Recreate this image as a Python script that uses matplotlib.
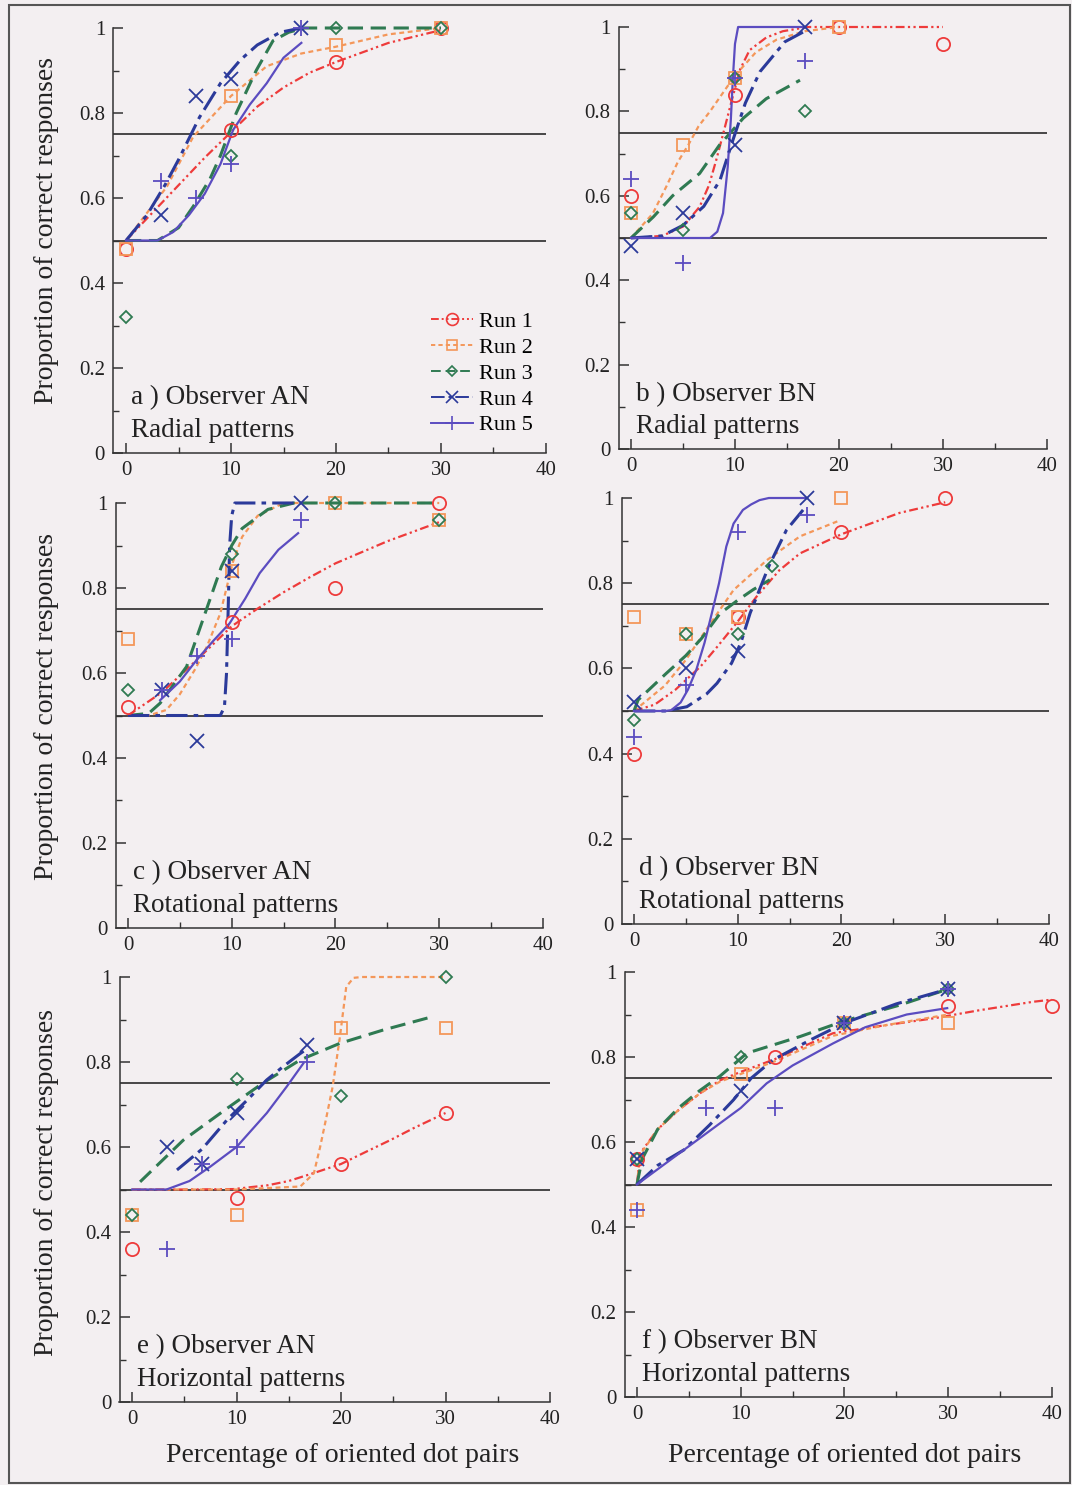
import matplotlib
matplotlib.use("Agg")
import matplotlib.pyplot as plt
from matplotlib.lines import Line2D
from matplotlib.patches import Rectangle

plt.rcParams['font.family'] = ['Liberation Serif', 'DejaVu Serif']

# ---------------- data ----------------
run_labels = ["Run 1", "Run 2", "Run 3", "Run 4", "Run 5"]
x_ticks = [0, 10, 20, 30, 40]
y_ticks = [0, 0.2, 0.4, 0.6, 0.8, 1.0]
y_tick_labels = ["0", "0.2", "0.4", "0.6", "0.8", "1"]
ref_levels = [0.5, 0.75]

panel_titles = [("a ) Observer AN", "Radial patterns"),
                ("b ) Observer BN", "Radial patterns"),
                ("c ) Observer AN", "Rotational patterns"),
                ("d ) Observer BN", "Rotational patterns"),
                ("e ) Observer AN", "Horizontal patterns"),
                ("f ) Observer BN", "Horizontal patterns")]

# panel a
a_pts_x = [[0, 10, 20, 30], [0, 10, 20, 30], [0, 10, 20, 30],
           [3.3, 6.7, 10, 16.7], [3.3, 6.7, 10, 16.7]]
a_pts_y = [[0.48, 0.76, 0.92, 1.0], [0.48, 0.84, 0.96, 1.0], [0.32, 0.70, 1.0, 1.0],
           [0.56, 0.84, 0.88, 1.0], [0.64, 0.60, 0.68, 1.0]]
a_fit_x = [[0, 2.5, 5, 7.5, 10, 12.5, 15, 17.5, 20, 25, 30],
           [0, 2, 3.9, 6.4, 10, 13.4, 16.7, 20, 25, 30],
           [0, 3, 5, 6.4, 8, 9, 10.5, 12.4, 14, 15.5, 17, 20, 30],
           [0, 2, 3.7, 5, 7, 9, 10.9, 12.5, 14.7, 16.7],
           [0, 3, 4.5, 6, 7.5, 9, 10.2, 11.8, 13.4, 15, 16.7]]
a_fit_y = [[0.5, 0.565, 0.63, 0.695, 0.755, 0.815, 0.86, 0.895, 0.92, 0.965, 0.995],
           [0.5, 0.565, 0.627, 0.744, 0.84, 0.91, 0.94, 0.956, 0.985, 1.0],
           [0.5, 0.5, 0.53, 0.58, 0.645, 0.70, 0.80, 0.90, 0.97, 0.99, 1.0, 1.0, 1.0],
           [0.5, 0.56, 0.63, 0.69, 0.79, 0.87, 0.925, 0.96, 0.99, 1.0],
           [0.5, 0.5, 0.52, 0.56, 0.61, 0.68, 0.76, 0.82, 0.87, 0.93, 0.965]]

# panel b
b_pts_x = [[0, 10, 20, 30], [0, 5, 10, 20], [0, 5, 10, 16.7],
           [0, 5, 10, 16.7], [0, 5, 10, 16.7]]
b_pts_y = [[0.60, 0.84, 1.0, 0.96], [0.56, 0.72, 0.88, 1.0], [0.56, 0.52, 0.88, 0.80],
           [0.48, 0.56, 0.72, 1.0], [0.64, 0.44, 0.88, 0.92]]
b_fit_x = [[0, 3, 5, 6.6, 7.5, 8.2, 9, 9.7, 10.5, 11.4, 13, 14.6, 17, 20, 30],
           [0, 2.1, 3.4, 4.5, 5.5, 6.5, 7.6, 10, 12, 14, 16.7, 20],
           [0, 2.15, 4, 6.6, 8.5, 10.8, 13, 16.25],
           [0, 3, 5, 7, 8.56, 9.8, 11, 12.4, 14.8, 16.7],
           [0, 7.6, 8.3, 8.85, 9.3, 9.6, 9.8, 10.0, 10.3, 16.7]]
b_fit_y = [[0.5, 0.505, 0.527, 0.574, 0.625, 0.685, 0.76, 0.827, 0.90, 0.945, 0.975, 0.99, 1.0, 1.0, 1.0],
           [0.5, 0.558, 0.622, 0.68, 0.72, 0.765, 0.80, 0.885, 0.94, 0.97, 0.99, 1.0],
           [0.5, 0.55, 0.60, 0.653, 0.72, 0.784, 0.83, 0.874],
           [0.5, 0.505, 0.53, 0.575, 0.637, 0.732, 0.82, 0.894, 0.965, 0.99],
           [0.5, 0.5, 0.515, 0.559, 0.668, 0.78, 0.88, 0.96, 1.0, 1.0]]

# panel c
c_pts_x = [[0, 10, 20, 30], [0, 10, 20, 30], [0, 10, 20, 30],
           [3.3, 6.7, 10, 16.7], [3.3, 6.7, 10, 16.7]]
c_pts_y = [[0.52, 0.72, 0.80, 1.0], [0.68, 0.84, 1.0, 0.96], [0.56, 0.88, 1.0, 0.96],
           [0.56, 0.44, 0.84, 1.0], [0.56, 0.64, 0.68, 0.96]]
c_fit_x = [[0, 3.3, 6.6, 10, 12.4, 15, 17.5, 20, 25, 30],
           [0, 2, 3.7, 5, 6.5, 7.6, 8.9, 10.1, 11, 12.5, 15, 20, 30],
           [0, 2, 3.1, 5.65, 7.6, 9, 10, 11, 12.1, 13.5, 16, 20, 30],
           [0, 8.9, 9.3, 9.5, 9.66, 9.8, 10.0, 10.3, 16.7],
           [3.1, 5, 6.6, 8.2, 9.8, 11.3, 12.7, 14.5, 16.4]]
c_fit_y = [[0.5, 0.555, 0.63, 0.71, 0.75, 0.79, 0.825, 0.858, 0.91, 0.955],
           [0.5, 0.5, 0.513, 0.55, 0.61, 0.662, 0.74, 0.86, 0.92, 0.97, 1.0, 1.0, 1.0],
           [0.5, 0.505, 0.529, 0.615, 0.752, 0.85, 0.90, 0.94, 0.96, 0.985, 1.0, 1.0, 1.0],
           [0.5, 0.5, 0.52, 0.60, 0.75, 0.90, 0.97, 1.0, 1.0],
           [0.536, 0.58, 0.63, 0.675, 0.717, 0.775, 0.835, 0.89, 0.929]]

# panel d
d_pts_x = [[0, 10, 20, 30], [0, 5, 10, 20], [0, 5, 10, 13.3],
           [0, 5, 10, 16.7], [0, 5, 10, 16.7]]
d_pts_y = [[0.40, 0.72, 0.92, 1.0], [0.72, 0.68, 0.72, 1.0], [0.48, 0.68, 0.68, 0.84],
           [0.52, 0.60, 0.64, 1.0], [0.44, 0.56, 0.92, 0.96]]
d_fit_x = [[0, 2, 4, 6.4, 8, 10, 11.8, 14, 16, 20, 25.6, 30],
           [0, 3, 5, 7.5, 9.6, 12.8, 16, 19.9],
           [0, 0.4, 3.1, 5, 6.5, 8.3, 10, 11.5, 13.1],
           [0, 3, 5.1, 7, 8, 9.4, 10.3, 11.2, 13, 14.7, 16.3],
           [0, 3, 3.6, 4.5, 5.2, 6.0, 6.8, 7.5, 8.2, 8.9, 9.6, 10.5, 11.3, 12.1, 13, 16.7]]
d_fit_y = [[0.5, 0.515, 0.55, 0.604, 0.65, 0.71, 0.768, 0.83, 0.87, 0.915, 0.965, 0.99],
           [0.5, 0.56, 0.62, 0.71, 0.784, 0.854, 0.91, 0.948],
           [0.5, 0.526, 0.588, 0.63, 0.67, 0.729, 0.76, 0.785, 0.808],
           [0.5, 0.5, 0.51, 0.54, 0.565, 0.612, 0.66, 0.73, 0.84, 0.925, 0.972],
           [0.5, 0.5, 0.502, 0.52, 0.55, 0.596, 0.66, 0.729, 0.80, 0.886, 0.94, 0.972, 0.985, 0.995, 1.0, 1.0]]

# panel e
e_pts_x = [[0, 10, 20, 30], [0, 10, 20, 30], [0, 10, 20, 30],
           [3.3, 6.7, 10, 16.7], [3.3, 6.7, 10, 16.7]]
e_pts_y = [[0.36, 0.48, 0.56, 0.68], [0.44, 0.44, 0.88, 0.88], [0.44, 0.76, 0.72, 1.0],
           [0.60, 0.56, 0.68, 0.84], [0.36, 0.56, 0.60, 0.80]]
e_fit_x = [[0, 5, 9.7, 13, 15, 17.3, 20, 22.5, 24.7, 27, 30],
           [0, 10, 16.1, 17.4, 18, 18.6, 19.2, 19.9, 20.5, 21.2, 22, 30],
           [0.77, 4.9, 9.1, 12.5, 16.1, 19.9, 24, 28.8],
           [4.3, 6.7, 9.1, 11, 12.9, 14.5, 16.1, 16.7],
           [0, 3.3, 5.5, 7.5, 10, 12.9, 14.8, 16.4]]
e_fit_y = [[0.5, 0.5, 0.501, 0.51, 0.52, 0.538, 0.56, 0.59, 0.616, 0.645, 0.68],
           [0.5, 0.5, 0.507, 0.538, 0.60, 0.67, 0.742, 0.86, 0.977, 0.998, 1.0, 1.0],
           [0.518, 0.616, 0.691, 0.75, 0.805, 0.844, 0.875, 0.907],
           [0.546, 0.595, 0.664, 0.71, 0.758, 0.79, 0.82, 0.83],
           [0.5, 0.5, 0.52, 0.554, 0.60, 0.68, 0.742, 0.797]]

# panel f
f_pts_x = [[0, 13.3, 30, 40], [0, 10, 20, 30], [0, 10, 20, 30],
           [0, 10, 20, 30], [0, 6.7, 13.3, 20, 30]]
f_pts_y = [[0.56, 0.80, 0.92, 0.92], [0.44, 0.76, 0.88, 0.88], [0.56, 0.80, 0.88, 0.96],
           [0.56, 0.72, 0.88, 0.96], [0.44, 0.68, 0.68, 0.88, 0.96]]
f_fit_x = [[0, 0.3, 2, 4, 6.1, 8, 10, 13.3, 18.9, 24, 28.6, 33, 38.2, 40],
           [0, 0.3, 2, 4, 6.1, 8, 10, 13.3, 18.9, 24, 30],
           [0, 0.5, 2, 4, 6, 8, 10.6, 15.7, 20, 25.3, 30],
           [0, 2, 4.5, 7, 9.3, 11, 13.1, 16.7, 20, 25, 30],
           [0, 5, 10, 12.5, 15, 18.9, 22, 26, 29.9]]
f_fit_y = [[0.5, 0.573, 0.63, 0.675, 0.715, 0.745, 0.765, 0.795, 0.856, 0.875, 0.891, 0.91, 0.93, 0.935],
           [0.5, 0.57, 0.63, 0.675, 0.715, 0.742, 0.76, 0.79, 0.85, 0.875, 0.90],
           [0.5, 0.56, 0.63, 0.68, 0.72, 0.755, 0.809, 0.848, 0.885, 0.922, 0.96],
           [0.5, 0.545, 0.581, 0.64, 0.699, 0.75, 0.793, 0.84, 0.88, 0.925, 0.96],
           [0.5, 0.59, 0.68, 0.738, 0.78, 0.832, 0.87, 0.90, 0.915]]

panels = [(a_pts_x, a_pts_y, a_fit_x, a_fit_y),
          (b_pts_x, b_pts_y, b_fit_x, b_fit_y),
          (c_pts_x, c_pts_y, c_fit_x, c_fit_y),
          (d_pts_x, d_pts_y, d_fit_x, d_fit_y),
          (e_pts_x, e_pts_y, e_fit_x, e_fit_y),
          (f_pts_x, f_pts_y, f_fit_x, f_fit_y)]

# ---------------- style ----------------
W, H = 1072, 1485
BG = '#F3EFF1'
colors = ['#EE3B3B', '#F4975A', '#2F7A52', '#2B3A9A', '#5B4CC0']
linestyles = [(0, (4, 1.5, 1, 1.5, 1, 1.5)), (0, (2.2, 1.6)), (0, (5, 2.5)),
              (0, (7, 2, 1.5, 2)), '-']
linewidths = [1.6, 1.6, 2.2, 2.2, 1.6]
markers = ['o', 's', 'D', 'x', '+']
msizes = [9.5, 8.5, 6, 10, 11]

# axes boxes in pixels: left, right, top, bottom
boxes = [(113.4, 546, 28, 453), (618.5, 1047, 27, 449),
         (115.5, 543, 503, 928), (621.5, 1049, 498, 924),
         (119.5, 550, 977, 1402), (624.5, 1052, 972, 1397)]

fig = plt.figure(figsize=(W / 100, H / 100), dpi=100, facecolor=BG)
fig.patches.append(Rectangle((9 / W, 1 - 1483 / H), (1070 - 9) / W, (1483 - 5) / H,
                             transform=fig.transFigure, fill=False,
                             edgecolor='#555555', lw=1.5))

axes = []
for k, (l, r, t, b) in enumerate(boxes):
    ax = fig.add_axes([l / W, 1 - b / H, (r - l) / W, (b - t) / H])
    ax.set_facecolor('none')
    ax.set_xlim(-1.2, 40)
    ax.set_ylim(0, 1)
    for s in ['top', 'right']:
        ax.spines[s].set_visible(False)
    for s in ['left', 'bottom']:
        ax.spines[s].set_color('#333333')
        ax.spines[s].set_linewidth(1.1)
    ax.set_xticks(x_ticks)
    ax.set_xticklabels([str(v) for v in x_ticks])
    ax.set_xticks([5, 15, 25, 35], minor=True)
    ax.set_yticks(y_ticks)
    ax.set_yticklabels(y_tick_labels)
    ax.set_yticks([0.1, 0.3, 0.5, 0.7, 0.9], minor=True)
    ax.tick_params(which='both', direction='in', top=False, right=False,
                   colors='#333333', labelcolor='#222222', labelsize=15)
    ax.tick_params(which='major', length=7, width=1.1, pad=6)
    ax.tick_params(which='minor', length=4, width=1.0)
    for lvl in ref_levels:
        ax.axhline(lvl, color='#2a2a2a', lw=1.2, zorder=1)

    pts_x, pts_y, fit_x, fit_y = panels[k]
    for i in range(5):
        ax.plot(fit_x[i], fit_y[i], color=colors[i], ls=linestyles[i],
                lw=linewidths[i], clip_on=False, zorder=2)
        ax.plot(pts_x[i], pts_y[i], ls='none', marker=markers[i], ms=msizes[i],
                mfc='none', mec=colors[i], mew=1.3, clip_on=False, zorder=3)
    t1, t2 = panel_titles[k]
    ax.text(0.5, 0.130, t1, fontsize=19.5, color='#222222', va='center', ha='left')
    ax.text(0.5, 0.053, t2, fontsize=19.5, color='#222222', va='center', ha='left')
    axes.append(ax)

handles = [Line2D([0], [0], color=colors[i], ls=linestyles[i], lw=1.4,
                  marker=markers[i], ms=msizes[i] * 0.9, mfc='none', mec=colors[i],
                  mew=1.2) for i in range(5)]
axes[0].legend(handles, run_labels, loc='lower right', bbox_to_anchor=(1.0, 0.01),
               frameon=False, fontsize=16, labelspacing=0.24, handlelength=1.9,
               handletextpad=0.25, borderpad=0.1, numpoints=1)

for yc in [230, 707, 1183]:
    fig.text(47 / W, 1 - yc / H, "Proportion of correct responses", rotation=90,
             ha='center', va='center', fontsize=20, color='#222222')
for xc in [343, 845]:
    fig.text(xc / W, 1 - 1455 / H, "Percentage of oriented dot pairs",
             ha='center', va='center', fontsize=20, color='#222222')

fig.savefig('out.png', dpi=100, facecolor=BG)
